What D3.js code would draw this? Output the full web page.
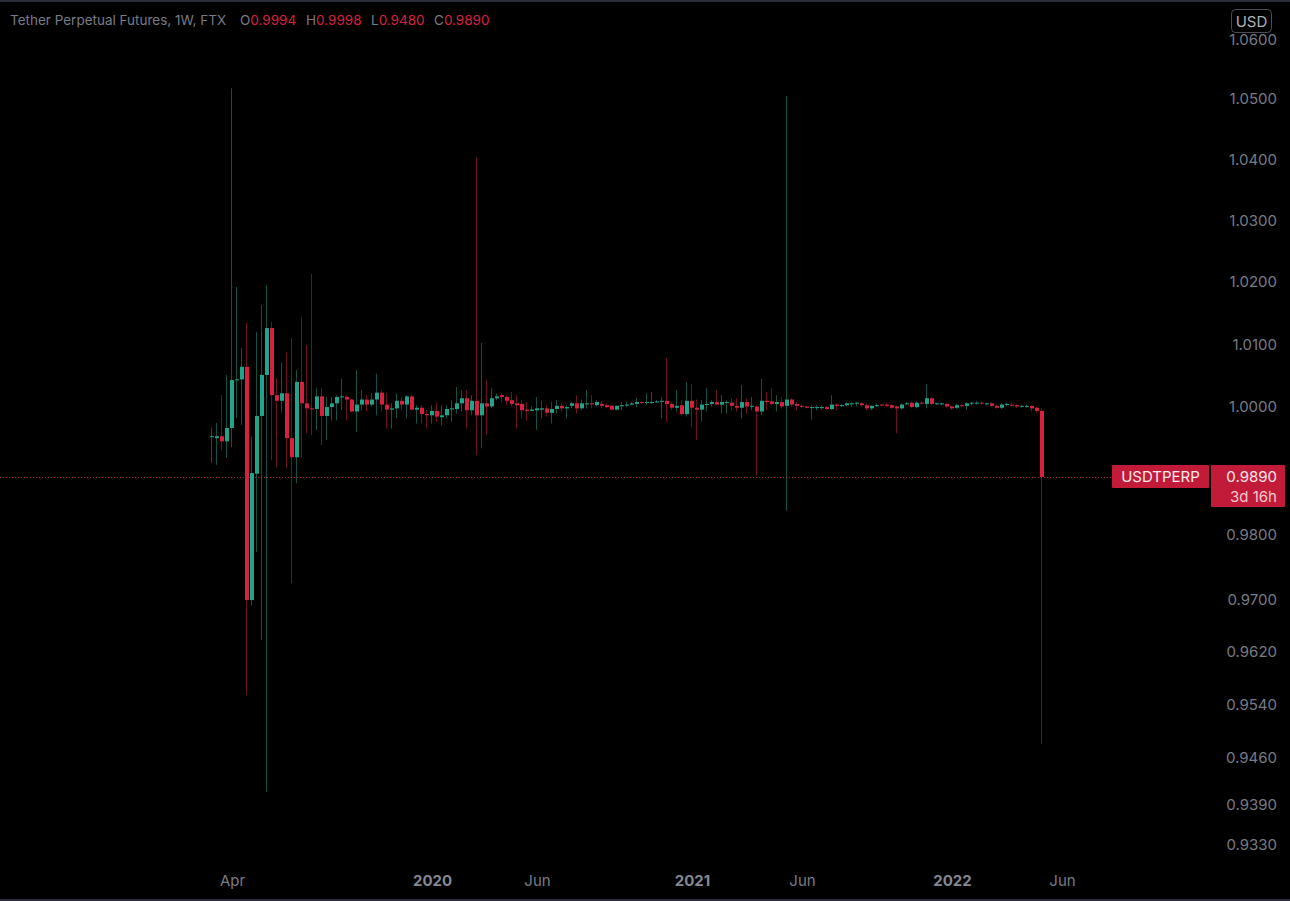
<!DOCTYPE html>
<html>
<head>
<meta charset="utf-8">
<script src="https://cdnjs.cloudflare.com/ajax/libs/d3/7.8.5/d3.min.js"></script>
<style>
  html, body { margin: 0; padding: 0; background: #000; }
  svg { display: block; font-family: Inter, Roboto, "Noto Sans", sans-serif; }
</style>
</head>
<body>
<svg id="chart"></svg>
<script>
// weekly candles, USDT-PERP on FTX
const WIDTH = 1290;
const HEIGHT = 901;
const FIRST_WEEK = "2019-03-04";

const opens = [
  .9953,.9951,.9954,.9946,.9967,1.0043,1.0044,1.0064,.9699,.9895,
  .9986,1.0051,1.0126,1.0019,1.0010,1.0022,.9951,.9921,1.0040,1.0006,
  .9998,.9997,1.0017,.9986,1.0000,1.0006,1.0016,1.0016,1.0012,.9993,
  1.0004,1.0012,1.0004,1.0012,1.0023,1.0004,.9996,.9998,1.0010,1.0004,
  1.0017,.9996,.9999,.9989,.9987,.9994,.9984,.9987,.9997,.9997,
  1.0006,1.0014,.9995,1.0010,.9987,1.0006,1.0001,1.0014,1.0019,1.0016,
  1.0011,1.0006,1.0005,.9996,.9994,.9995,.9996,.9998,.9991,.9997,
  1.0002,.9998,1.0002,1.0006,.9998,1.0005,1.0006,1.0003,1.0005,1.0003,
  1.0002,.9996,1.0002,1.0003,1.0004,1.0005,1.0008,1.0007,1.0007,1.0008,
  1.0009,1.0010,1.0005,.9999,1.0003,.9989,1.0010,.9999,.9996,1.0004,
  1.0005,1.0008,1.0004,1.0007,1.0007,1.0002,.9999,1.0008,1.0001,1.0001,
  .9993,1.0010,1.0009,1.0005,1.0008,1.0002,1.0012,1.0005,1.0002,1.0001,
  .9999,.9999,.9999,1.0000,.9997,1.0004,1.0002,1.0003,1.0005,1.0006,
  1.0006,1.0003,.9998,1.0002,1.0004,1.0004,1.0003,1.0001,.9998,1.0005,
  1.0007,1.0000,1.0007,1.0005,1.0014,1.0005,1.0005,1.0005,1.0001,.9999,
  1.0003,1.0002,1.0006,1.0006,1.0007,1.0005,1.0006,1.0002,.9999,1.0004,
  1.0004,1.0003,1.0001,1.0001,1.0002,.9999,.9994
];
const highs = [
  .9968,.9975,1.0019,1.0051,1.0518,1.0192,1.0094,1.0134,.9953,1.0120,
  1.0163,1.0195,1.0136,1.0046,1.0071,1.0087,1.0110,1.0059,1.0143,1.0099,
  1.0213,1.0030,1.0030,1.0016,1.0016,1.0019,1.0045,1.0019,1.0013,1.0059,
  1.0027,1.0019,1.0022,1.0053,1.0027,1.0022,1.0006,1.0022,1.0016,1.0019,
  1.0019,1.0003,1.0003,.9995,1.0003,1.0007,1.0003,1.0003,1.0011,1.0032,
  1.0027,1.0027,1.0019,1.0404,1.0102,1.0043,1.0030,1.0022,1.0022,1.0019,
  1.0024,1.0019,1.0011,1.0008,1.0001,1.0016,1.0010,1.0003,1.0008,1.0011,
  1.0006,1.0003,1.0008,1.0019,1.0012,1.0027,1.0019,1.0011,1.0010,1.0006,
  1.0003,1.0003,1.0008,1.0008,1.0008,1.0015,1.0009,1.0022,1.0024,1.0011,
  1.0016,1.0078,1.0008,1.0027,1.0011,1.0040,1.0037,1.0012,1.0011,1.0030,
  1.0011,1.0027,1.0019,1.0011,1.0014,1.0014,1.0035,1.0014,1.0016,1.0003,
  1.0045,1.0024,1.0030,1.0019,1.0016,1.0505,1.0014,1.0008,1.0006,1.0002,
  1.0003,1.0003,1.0003,1.0002,1.0019,1.0006,1.0005,1.0008,1.0008,1.0008,
  1.0008,1.0006,1.0003,1.0006,1.0005,1.0006,1.0005,1.0003,1.0006,1.0008,
  1.0009,1.0009,1.0009,1.0037,1.0016,1.0007,1.0007,1.0007,1.0003,1.0005,
  1.0005,1.0008,1.0008,1.0010,1.0009,1.0007,1.0008,1.0004,1.0006,1.0007,
  1.0006,1.0005,1.0003,1.0004,1.0003,1.0000,.9998
];
const lows = [
  .9912,.9909,.9932,.9920,.9937,.9983,.9972,.9554,.9691,.9773,
  .9638,.9409,.9916,.9905,.9992,.9904,.9725,.9880,.9920,.9959,
  .9956,.9964,.9940,.9948,.9979,.9979,.9995,.9979,.9992,.9961,
  .9995,.9993,1.0001,.9987,.9993,.9966,.9966,.9982,.9995,.9982,
  .9995,.9974,.9974,.9966,.9974,.9977,.9971,.9982,.9977,.9990,
  .9993,.9966,.9987,.9924,.9935,.9956,.9998,1.0011,1.0008,1.0003,
  1.0001,.9966,.9982,.9979,.9993,.9964,.9982,.9985,.9974,.9990,
  .9993,.9982,.9998,.9990,.9995,.9998,.9998,1.0001,.9998,.9998,
  .9995,.9995,.9995,1.0000,1.0003,1.0000,1.0005,1.0003,1.0005,1.0007,
  .9982,.9976,.9995,.9993,.9987,.9985,.9969,.9948,.9977,.9993,
  1.0001,1.0003,.9990,.9990,.9995,.9993,.9982,.9990,.9995,.9893,
  .9987,.9995,1.0003,.9993,.9998,.9837,1.0001,.9995,.9998,.9998,
  .9980,.9995,.9996,.9996,.9995,.9995,1.0000,1.0001,1.0000,1.0001,
  1.0001,.9995,.9995,1.0000,1.0001,1.0000,.9997,.9959,.9996,1.0003,
  .9998,.9998,1.0004,.9998,1.0003,1.0003,1.0003,.9999,.9996,.9997,
  1.0000,.9995,1.0003,1.0004,1.0004,1.0003,1.0000,.9997,.9997,1.0001,
  1.0001,.9999,.9999,.9999,.9993,.9991,.9480
];
const closes = [
  .9954,.9954,.9946,.9967,1.0043,1.0044,1.0064,.9699,.9896,.9986,
  1.0051,1.0126,1.0019,1.0010,1.0022,.9951,.9921,1.0040,1.0006,.9998,
  .9997,1.0017,.9986,1.0000,1.0006,1.0016,1.0017,1.0012,.9993,1.0004,
  1.0012,1.0004,1.0012,1.0023,1.0004,.9996,.9998,1.0010,1.0004,1.0017,
  .9996,.9999,.9989,.9987,.9994,.9985,.9987,.9997,.9998,1.0006,
  1.0014,.9995,1.0010,.9987,1.0006,1.0001,1.0014,1.0017,1.0016,1.0010,
  1.0005,1.0003,.9995,.9994,.9996,.9998,.9998,.9991,.9997,1.0002,
  .9998,1.0000,1.0006,.9998,1.0006,1.0006,1.0005,1.0008,1.0002,1.0000,
  .9996,1.0002,1.0003,1.0004,1.0006,1.0008,1.0007,1.0008,1.0008,1.0009,
  1.0010,1.0005,.9999,1.0002,.9989,1.0010,.9999,.9996,1.0004,1.0005,
  1.0008,1.0004,1.0008,1.0008,1.0002,.9999,1.0008,1.0001,1.0002,.9993,
  1.0010,1.0008,1.0005,1.0008,1.0001,1.0012,1.0004,1.0002,1.0001,.9999,
  1.0000,1.0000,1.0000,.9997,1.0004,1.0002,1.0003,1.0006,1.0006,1.0007,
  1.0003,.9998,1.0002,1.0003,1.0003,1.0002,.9999,.9998,1.0004,1.0006,
  1.0000,1.0007,1.0006,1.0014,1.0005,1.0006,1.0006,1.0001,.9998,1.0003,
  1.0002,1.0006,1.0007,1.0007,1.0006,1.0006,1.0002,.9999,1.0004,1.0005,
  1.0003,1.0001,1.0002,1.0002,.9998,.9994,.9890
];

const priceTicks = [1.06, 1.05, 1.04, 1.03, 1.02, 1.01, 1.00, 0.99, 0.98, 0.97, 0.962, 0.954, 0.946, 0.939, 0.933];
const timeTickDates = ["2019-04-01", "2020-01-06", "2020-06-01", "2021-01-04", "2021-06-07", "2022-01-03", "2022-06-06"];

const headerTitle = "Tether Perpetual Futures, 1W, FTX";
const headerKeys = ["O", "H", "L", "C"];
const headerVals = ["0.9994", "0.9998", "0.9480", "0.9890"];
const lastPrice = 0.9890;
const symbol = "USDTPERP";
const countdown = "3d 16h";

const UP = "#1fa58b";
const DOWN = "#d8213f";
const TAG = "#c21b39";
const AXIS_TEXT = "#787b85";

// where each O/H/L/C group starts in the legend row
const HEADER_X = [240, 306, 371, 434];

const parse = d3.utcParse("%Y-%m-%d");
const start = parse(FIRST_WEEK);

const candles = opens.map((o, i) => ({
  date: d3.utcMonday.offset(start, i),
  o: o, h: highs[i], l: lows[i], c: closes[i]
}));

const svg = d3.select('#chart')
  .attr('width', WIDTH)
  .attr('height', HEIGHT);

svg.append('rect')
  .attr('width', WIDTH).attr('height', HEIGHT)
  .attr('fill', '#000');

// 5px per week, anchored to the first bar of 2020 and the last bar
const x = d3.scaleUtc()
  .domain([parse("2020-01-06"), parse("2022-05-09")])
  .range([432, 1042]);

const y = d3.scaleLog()
  .domain([0.9299, 1.0666])
  .range([866, 0]);

// price axis
const yAxis = d3.axisLeft(y)
  .tickValues(priceTicks)
  .tickFormat(d3.format(".4f"))
  .tickSize(0)
  .tickPadding(0);

const yG = svg.append('g')
  .attr('transform', 'translate(1277,0)')
  .call(yAxis);
yG.select('.domain').remove();
yG.selectAll('text')
  .attr('fill', AXIS_TEXT)
  .style('font-family', 'Inter, Roboto, sans-serif')
  .style('font-size', '15px');

// time axis
const xAxis = d3.axisBottom(x)
  .tickValues(timeTickDates.map(parse))
  .tickSize(0)
  .tickPadding(0)
  .tickFormat(d => d.getUTCMonth() === 0 ? d3.utcFormat("%Y")(d) : d3.utcFormat("%b")(d));

const xG = svg.append('g')
  .attr('transform', 'translate(0,875)')
  .call(xAxis);
xG.select('.domain').remove();
xG.selectAll('text')
  .style('font-family', 'Inter, Roboto, sans-serif')
  .style('font-size', '15px')
  .attr('fill', d => d.getUTCMonth() === 0 ? '#858892' : AXIS_TEXT)
  .style('font-weight', d => d.getUTCMonth() === 0 ? 'bold' : 'normal');

// last price line
svg.append('line')
  .attr('x1', 0).attr('x2', 1112)
  .attr('y1', Math.round(y(lastPrice)) + 0.5)
  .attr('y2', Math.round(y(lastPrice)) + 0.5)
  .attr('stroke', DOWN)
  .attr('stroke-opacity', 0.8)
  .attr('stroke-dasharray', '1,2');

// candles
const candleG = svg.append('g');
const bars = candleG.selectAll('g')
  .data(candles)
  .enter()
  .append('g');

bars.append('rect')
  .attr('x', d => Math.round(x(d.date)) - 1)
  .attr('width', 1)
  .attr('y', d => y(d.h))
  .attr('height', d => Math.max(1, y(d.l) - y(d.h)))
  .attr('fill', d => d.c >= d.o ? UP : DOWN)
  .attr('fill-opacity', 0.5);

bars.append('rect')
  .attr('x', d => Math.round(x(d.date)) - 2)
  .attr('width', 4)
  .attr('y', d => y(Math.max(d.o, d.c)))
  .attr('height', d => Math.max(1, y(Math.min(d.o, d.c)) - y(Math.max(d.o, d.c))))
  .attr('fill', d => d.c >= d.o ? UP : DOWN);

// header legend
const headerG = svg.append('g')
  .style('font-size', '13.5px');
headerG.append('text')
  .attr('x', 10).attr('y', 25)
  .attr('fill', AXIS_TEXT)
  .text(headerTitle);
headerKeys.forEach((k, i) => {
  const t = headerG.append('text')
    .attr('x', HEADER_X[i]).attr('y', 25)
    .attr('fill', AXIS_TEXT);
  t.append('tspan').text(k);
  t.append('tspan').attr('fill', DOWN).text(headerVals[i]);
});

// currency button
svg.append('rect')
  .attr('x', 1231.5).attr('y', 9.5)
  .attr('width', 40).attr('height', 23)
  .attr('rx', 4)
  .attr('fill', '#000')
  .attr('stroke', '#4a4d57');
svg.append('text')
  .attr('x', 1251.5).attr('y', 26.5)
  .attr('text-anchor', 'middle')
  .style('font-size', '15px')
  .attr('fill', '#aeb1ba')
  .text('USD');

// symbol and price tags
const tagY = y(lastPrice);
svg.append('rect')
  .attr('x', 1112).attr('y', tagY - 12)
  .attr('width', 97).attr('height', 23)
  .attr('rx', 1)
  .attr('fill', TAG);
svg.append('text')
  .attr('x', 1160.5).attr('y', tagY + 5.5)
  .attr('text-anchor', 'middle')
  .style('font-size', '15px')
  .attr('fill', '#fbe9ec')
  .text(symbol);

svg.append('rect')
  .attr('x', 1211).attr('y', tagY - 12)
  .attr('width', 74).attr('height', 42)
  .attr('rx', 1)
  .attr('fill', TAG);
svg.append('text')
  .attr('x', 1277).attr('y', tagY + 5.5)
  .attr('text-anchor', 'end')
  .style('font-size', '15px')
  .attr('fill', '#fbe9ec')
  .text(d3.format(".4f")(lastPrice));
svg.append('text')
  .attr('x', 1277).attr('y', tagY + 25)
  .attr('text-anchor', 'end')
  .style('font-size', '15px')
  .attr('fill', '#f2c9d0')
  .text(countdown);

// frame lines
svg.append('rect')
  .attr('x', 0).attr('y', 0).attr('width', WIDTH).attr('height', 2)
  .attr('fill', '#2a2e39');
svg.append('rect')
  .attr('x', 0).attr('y', HEIGHT - 2).attr('width', WIDTH).attr('height', 2)
  .attr('fill', '#2a2e39');
</script>
</body>
</html>
